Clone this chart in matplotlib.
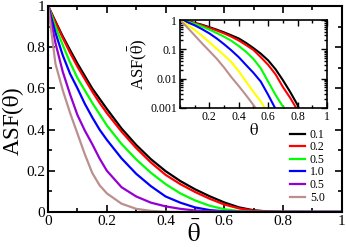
import matplotlib
matplotlib.use("Agg")
import matplotlib.pyplot as plt
import matplotlib.ticker as ticker

plt.rcParams['font.family'] = ['Liberation Serif', 'DejaVu Serif']
plt.rcParams['mathtext.fontset'] = 'stix'

# main panel: ASF vs theta-bar
theta_bar = [0, 0.025, 0.05, 0.075, 0.1, 0.125, 0.15, 0.175, 0.2, 0.25, 0.3, 0.35, 0.4, 0.45,
             0.5, 0.55, 0.6, 0.65, 0.7, 0.75, 0.8, 0.9, 1.0]
asf_01 = [1, 0.925, 0.852, 0.785, 0.72, 0.66, 0.60, 0.55, 0.50, 0.405, 0.325, 0.256, 0.198, 0.150,
          0.110, 0.076, 0.046, 0.022, 0.008, 0.002, 0.0005, 0, 0]
asf_02 = [1, 0.92, 0.845, 0.772, 0.705, 0.645, 0.585, 0.53, 0.48, 0.39, 0.31, 0.24, 0.18, 0.135,
          0.097, 0.064, 0.036, 0.017, 0.006, 0.0015, 0.0004, 0, 0]
asf_05 = [1, 0.90, 0.81, 0.725, 0.65, 0.59, 0.53, 0.475, 0.42, 0.33, 0.255, 0.19, 0.135, 0.09,
          0.056, 0.03, 0.013, 0.004, 0.001, 0, 0, 0, 0]
asf_10 = [1, 0.87, 0.76, 0.67, 0.60, 0.525, 0.46, 0.40, 0.35, 0.26, 0.185, 0.125, 0.075, 0.045,
          0.022, 0.009, 0.003, 0.001, 0, 0, 0, 0, 0]
asf_05b = [1, 0.82, 0.68, 0.57, 0.47, 0.395, 0.33, 0.26, 0.20, 0.12, 0.075, 0.045, 0.027, 0.015,
           0.007, 0.003, 0.001, 0, 0, 0, 0, 0, 0]
asf_50 = [1, 0.72, 0.59, 0.48, 0.38, 0.28, 0.19, 0.13, 0.09, 0.04, 0.015, 0.005, 0.001, 0,
          0, 0, 0, 0, 0, 0, 0, 0, 0]

# inset: ASF vs theta, log scale
theta = [0, 0.05, 0.1, 0.15, 0.2, 0.25, 0.3, 0.35, 0.4, 0.45, 0.5, 0.55,
         0.6, 0.65, 0.7, 0.75, 0.8, 0.85]
log_01 = [1, 0.91, 0.8, 0.69, 0.57, 0.47, 0.38, 0.3, 0.235, 0.165, 0.11, 0.071,
          0.042, 0.021, 0.0089, 0.0035, 0.00126, 0.00025]
log_02 = [1, 0.9, 0.78, 0.66, 0.54, 0.44, 0.35, 0.27, 0.2, 0.14, 0.095, 0.054,
          0.0295, 0.0141, 0.0052, 0.0022, 0.00083, 0.0001]
log_05 = [1, 0.88, 0.74, 0.6, 0.47, 0.36, 0.27, 0.195, 0.13, 0.082, 0.047, 0.0224,
          0.0079, 0.0028, 0.00112, 0.0004, 0.0001, 0.0001]
log_10 = [1, 0.84, 0.66, 0.49, 0.35, 0.235, 0.15, 0.092, 0.054, 0.029, 0.0158, 0.0079,
          0.0028, 0.00093, 0.0003, 0.0001, 0.0001, 0.0001]
log_05b = [1, 0.7, 0.46, 0.29, 0.175, 0.105, 0.063, 0.0365, 0.0178, 0.0079, 0.00355, 0.00166,
           0.00063, 0.0001, 0.0001, 0.0001, 0.0001, 0.0001]
log_50 = [1, 0.56, 0.3, 0.16, 0.088, 0.048, 0.024, 0.0112, 0.0056, 0.0027, 0.00126, 0.00056,
          0.0001, 0.0001, 0.0001, 0.0001, 0.0001, 0.0001]

labels = ['0.1', '0.2', '0.5', '1.0', '0.5', '5.0']
main_colors = ['black', 'red', '#00ff00', 'blue', '#9400d3', '#bc8f8f']
inset_colors = ['black', 'red', '#00ff00', 'blue', '#ffff00', '#bc8f8f']

fig = plt.figure(figsize=(3.46, 2.47), dpi=100)
ax = fig.add_axes([0.139, 0.142, 0.849, 0.834])

main_series = [asf_01, asf_02, asf_05, asf_10, asf_05b, asf_50]
for y, c, lab in zip(main_series, main_colors, labels):
    ax.plot(theta_bar, y, color=c, lw=1.6, label=lab)

ax.set_xlim(0, 1)
ax.set_ylim(0, 1)
ax.xaxis.set_major_locator(ticker.MultipleLocator(0.2))
ax.xaxis.set_minor_locator(ticker.MultipleLocator(0.1))
ax.yaxis.set_major_locator(ticker.MultipleLocator(0.2))
ax.yaxis.set_minor_locator(ticker.MultipleLocator(0.1))
ax.xaxis.set_major_formatter(ticker.FormatStrFormatter('%g'))
ax.yaxis.set_major_formatter(ticker.FormatStrFormatter('%g'))
ax.tick_params(which='both', direction='in', top=True, right=True, labelsize=11, width=1.2)
ax.tick_params(which='major', length=5, pad=2)
ax.tick_params(which='minor', length=3)
for s in ax.spines.values():
    s.set_linewidth(1.5)
ax.set_xlabel(r'$\bar{\mathrm{\theta}}$', fontsize=18)
ax.xaxis.set_label_coords(0.497, -0.045)
ax.xaxis.label.set_va('top')
ax.set_ylabel(r'ASF($\bar{\mathrm{\theta}}$)', fontsize=16.5)
ax.yaxis.set_label_coords(-0.075, 0.44)

ax.legend(loc='lower right', bbox_to_anchor=(0.97, 0.0), frameon=False, fontsize=8.5,
          handlelength=1.3, handletextpad=0.4, labelspacing=0.05, borderaxespad=0.3)

# inset
ins = fig.add_axes([0.520, 0.563, 0.425, 0.356])
inset_series = [log_01, log_02, log_05, log_10, log_05b, log_50]
for y, c in zip(inset_series, inset_colors):
    ins.plot(theta, y, color=c, lw=1.5)
ins.set_yscale('log')
ins.set_xlim(0, 1)
ins.set_ylim(0.001, 1)
ins.set_xticks([0.2, 0.4, 0.6, 0.8, 1.0])
ins.xaxis.set_minor_locator(ticker.MultipleLocator(0.1))
ins.xaxis.set_major_formatter(ticker.FormatStrFormatter('%g'))
ins.yaxis.set_major_formatter(ticker.FuncFormatter(lambda v, p: '%g' % v))
ins.yaxis.set_minor_formatter(ticker.NullFormatter())
ins.tick_params(which='both', direction='in', top=True, right=True, labelsize=8.5, width=1)
ins.tick_params(which='major', length=4, pad=2)
ins.tick_params(which='minor', length=2)
for s in ins.spines.values():
    s.set_linewidth(1.2)
ins.set_xlabel(r'$\mathrm{\theta}$', fontsize=12, labelpad=0)
ins.set_ylabel(r'ASF($\bar{\mathrm{\theta}}$)', fontsize=12, labelpad=1)

fig.savefig('out.png', dpi=100)
